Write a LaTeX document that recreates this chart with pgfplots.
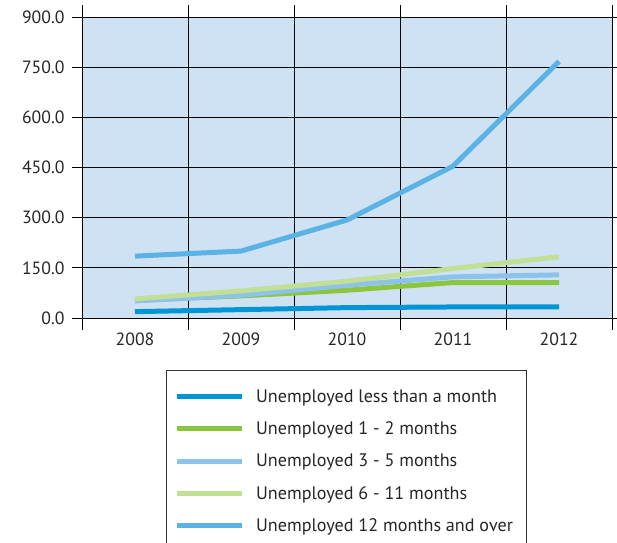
\documentclass[border=0pt]{standalone}
\usepackage{fontspec}
\setmainfont{PT Sans}
\usepackage{pgfplots}
\pgfplotsset{compat=1.18}
\definecolor{cA}{HTML}{0096D6}
\definecolor{cB}{HTML}{8CC63F}
\definecolor{cC}{HTML}{8DC2EA}
\definecolor{cD}{HTML}{C2DF96}
\definecolor{cE}{HTML}{5BB2E4}
\definecolor{bgc}{HTML}{CFE2F3}
\begin{document}
\begin{tikzpicture}[x=1bp,y=1bp]
\path[use as bounding box] (0,0) rectangle (617,543);
\begin{axis}[
  at={(82bp,225bp)}, anchor=south west,
  scale only axis, width=530bp, height=301bp,
  xmin=0.5, xmax=5.5, ymin=0, ymax=900,
  ytick={0,150,...,900},
  yticklabel style={xshift=-4bp, /pgf/number format/.cd,fixed,fixed zerofill,precision=1},
  /pgf/number format/assume math mode=true,
  xtick={1,2,3,4,5},
  xticklabels={2008,2009,2010,2011,2012},
  minor xtick={0.5,1.5,...,5.5},
  major x tick style={draw=none},
  tick align=outside,
  major tick length=10bp, minor tick length=12bp,
  tick style={black, line width=0.8bp},
  ymajorgrids=true, xminorgrids=true,
  grid style={black, line width=0.8bp},
  minor grid style={black, line width=0.8bp},
  axis line style={black, line width=0.8bp},
  axis background/.style={fill=bgc},
  tick label style={font=\fontsize{17.8}{20}\selectfont, text=black!85},
  xticklabel style={yshift=-1bp},
  legend style={at={(rel axis cs:0.158,-0.173)}, anchor=north west,
    draw=black!80, line width=0.8bp, fill=white,
    font=\fontsize{18.2}{20}\selectfont, text=black!85,
    row sep=14bp, inner xsep=8bp, inner ysep=17bp,
    nodes={inner xsep=5bp, inner ysep=2bp},
    /tikz/every odd column/.append style={column sep=7bp}},
  legend cell align=left,
  legend image code/.code={\draw[#1, line width=5bp] (0bp,0bp) -- (65bp,0bp);},
  every axis plot/.append style={line width=5bp, line join=round},
]
\addplot[cA] coordinates {(1,19) (2,25) (3,31) (4,33) (5,33)};
\addlegendentry{Unemployed less than a month}
\addplot[cB] coordinates {(1,53) (2,66) (3,83) (4,106) (5,106)};
\addlegendentry{Unemployed 1 - 2 months}
\addplot[cC] coordinates {(1,51) (2,68) (3,98) (4,123) (5,129)};
\addlegendentry{Unemployed 3 - 5 months}
\addplot[cD] coordinates {(1,57) (2,81) (3,110) (4,148) (5,183)};
\addlegendentry{Unemployed 6 - 11 months}
\addplot[cE] coordinates {(1,185) (2,200) (3,293) (4,454) (5,767)};
\addlegendentry{Unemployed 12 months and over}
\end{axis}
\end{tikzpicture}
\end{document}
